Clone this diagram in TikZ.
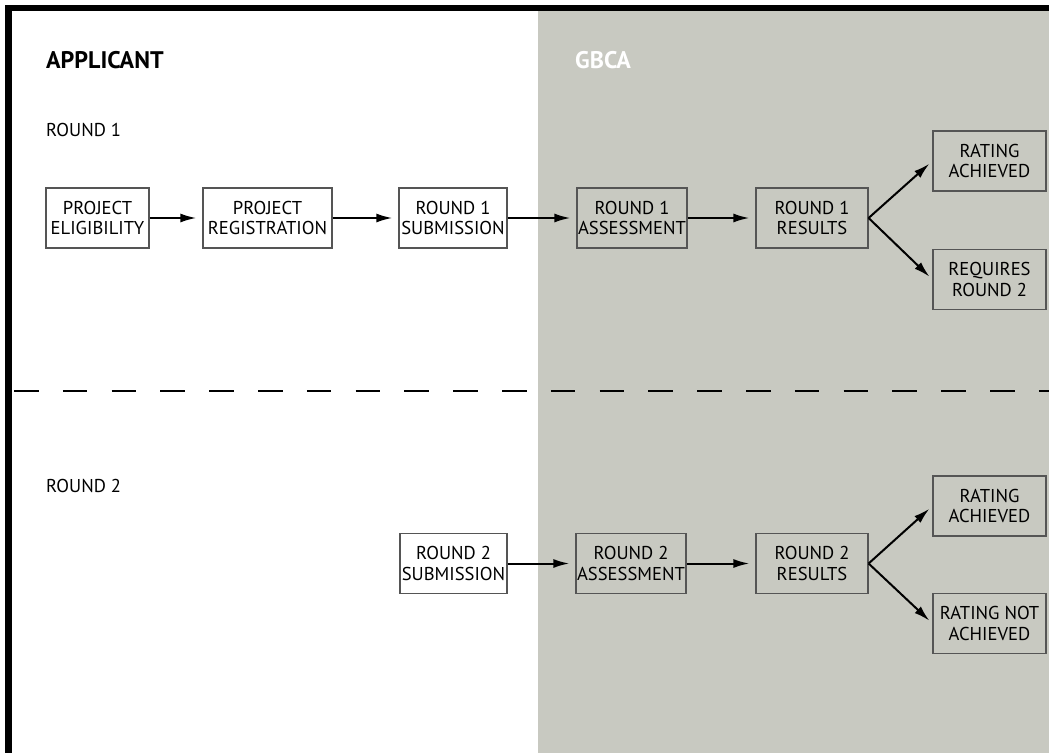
\documentclass[tikz,border=0pt]{standalone}
\usepackage{fontspec}
\setmainfont{PT Sans}
\usetikzlibrary{arrows.meta}
\definecolor{gbcagrey}{RGB}{200,201,193}
\definecolor{boxline}{RGB}{85,85,85}

\begin{document}
\begin{tikzpicture}[x=1pt,y=-1pt,
  box/.style={draw=boxline,line width=1.2pt,align=center,minimum height=60pt,inner sep=0pt,font=\fontsize{18.6}{20.5}\selectfont},
  flow/.style={-{Latex[length=16pt,width=9pt]},line width=2pt,shorten >=6pt},
  heading/.style={anchor=base west,inner sep=0pt,font=\fontsize{24}{28}\selectfont\bfseries},
  roundlabel/.style={anchor=base west,inner sep=0pt,font=\fontsize{18.6}{20.5}\selectfont}]
\useasboundingbox (0,0) rectangle (1049,753);
\fill[white] (0,0) rectangle (1049,753);
\fill[gbcagrey] (538.3,11) rectangle (1049,753);
\fill[black] (5,4.5) rectangle (1049,11);
\fill[black] (5,4.5) rectangle (12,753);
\draw[dash pattern=on 24.5pt off 24.3pt,line width=1.8pt] (14,391) -- (1049,391);
\node[heading] (applicant) at (46,68.3) {APPLICANT};
\node[heading,text=white] (gbca) at (575,68.3) {GBCA};
\node[roundlabel] (roundone) at (46,136) {ROUND 1};
\node[roundlabel] (roundtwo) at (46,492) {ROUND 2};
% round 1
\node[box,minimum width=103pt] (elig) at (97.5,218) {PROJECT\\ELIGIBILITY};
\node[box,minimum width=129pt] (reg) at (267.5,218) {PROJECT\\REGISTRATION};
\node[box,minimum width=108pt] (subone) at (453,218) {ROUND 1\\SUBMISSION};
\node[box,minimum width=110pt] (assone) at (632,218) {ROUND 1\\ASSESSMENT};
\node[box,minimum width=112pt] (resone) at (812,218) {ROUND 1\\RESULTS};
\node[box,minimum width=113pt] (achone) at (989.5,161) {RATING\\ACHIEVED};
\node[box,minimum width=113pt] (reqtwo) at (989.5,279.5) {REQUIRES\\ROUND 2};
\draw[flow] (elig) -- (reg);
\draw[flow] (reg) -- (subone);
\draw[flow] (subone) -- (assone);
\draw[flow] (assone) -- (resone);
\draw[flow,shorten >=4pt] (resone.east) -- (achone.west);
\draw[flow,shorten >=4pt] (resone.east) -- (reqtwo.west);
% round 2
\node[box,minimum width=107pt] (subtwo) at (453.5,563.5) {ROUND 2\\SUBMISSION};
\node[box,minimum width=110pt] (asstwo) at (631,563.5) {ROUND 2\\ASSESSMENT};
\node[box,minimum width=112pt] (restwo) at (812,563.5) {ROUND 2\\RESULTS};
\node[box,minimum width=113pt] (achtwo) at (989.5,506) {RATING\\ACHIEVED};
\node[box,minimum width=113pt] (notach) at (989.5,623.5) {RATING NOT\\ACHIEVED};
\draw[flow] (subtwo) -- (asstwo);
\draw[flow] (asstwo) -- (restwo);
\draw[flow,shorten >=4pt] (restwo.east) -- (achtwo.west);
\draw[flow,shorten >=4pt] (restwo.east) -- (notach.west);
\end{tikzpicture}
\end{document}
